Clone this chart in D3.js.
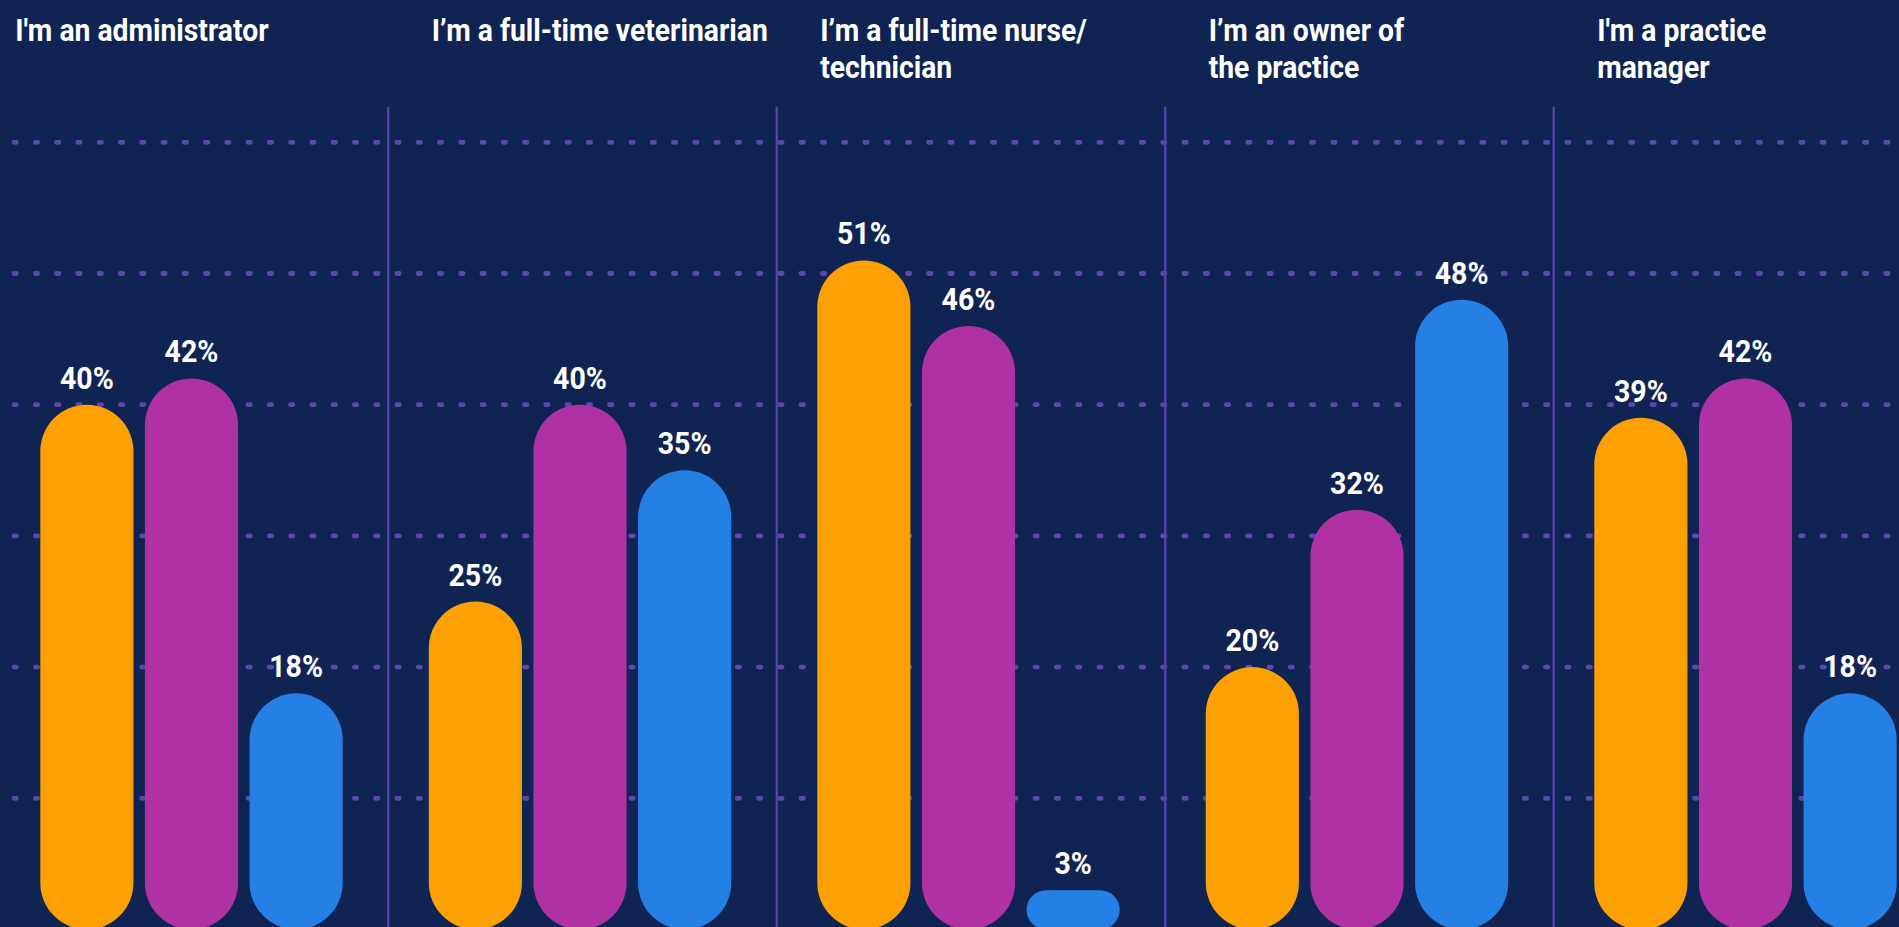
<!DOCTYPE html>
<html>
<head>
<meta charset="utf-8">
<script src="https://cdn.jsdelivr.net/npm/d3@7"></script>
<style>
  html, body { margin: 0; padding: 0; background: #0f2453; overflow: hidden; }
  svg { display: block; }
</style>
</head>
<body>
<svg id="chart" width="1899" height="927"></svg>
<script>
// ---- data ----
const categories = [
  ["I'm an administrator"],
  ["I’m a full-time veterinarian"],
  ["I’m a full-time nurse/", "technician"],
  ["I’m an owner of", "the practice"],
  ["I'm a practice", "manager"]
];
const seriesNames = ["Series A", "Series B", "Series C"];
const seriesA = [40, 25, 51, 20, 39];   // orange
const seriesB = [42, 40, 46, 32, 42];   // purple
const seriesC = [18, 35, 3, 48, 18];    // blue
const gridTicks = [10, 20, 30, 40, 50, 60];
const seriesColors = ["#fca004", "#b031a3", "#2580e6"];

// ---- layout ----
const W = 1899, H = 927;
const svg = d3.select("#chart");
svg.append("rect").attr("width", W).attr("height", H).attr("fill", "#0f2453");

const catKeys = categories.map((c, i) => i);
const step = 388.5;
const x0 = d3.scaleBand().domain(catKeys).range([-0.3, -0.3 + step * categories.length]).paddingInner(0).paddingOuter(0);
const x1 = d3.scaleBand().domain(seriesNames).range([40.6, 343]).paddingInner(0.11).paddingOuter(0);
const y = d3.scaleLinear().domain([0, 60]).range([929.5, 929.5 - 60 * 13.12]);

const values = [seriesA, seriesB, seriesC];

// gridlines (dotted)
svg.append("g").selectAll("line").data(gridTicks).join("line")
  .attr("x1", 14).attr("x2", W + 10)
  .attr("y1", d => y(d)).attr("y2", d => y(d))
  .attr("stroke", "#5b48aa").attr("stroke-width", 4.8)
  .attr("stroke-linecap", "round")
  .attr("stroke-dasharray", "2.4 18.87");

// dividers
svg.append("g").selectAll("line").data(catKeys.slice(1)).join("line")
  .attr("x1", d => x0(d)).attr("x2", d => x0(d))
  .attr("y1", 106.7).attr("y2", H)
  .attr("stroke", "#5746ad").attr("stroke-width", 2.2);

// bars
const barData = [];
catKeys.forEach(ci => {
  seriesNames.forEach((s, si) => {
    barData.push({ ci, s, si, v: values[si][ci] });
  });
});

const bars = svg.append("g");
bars.selectAll("rect").data(barData).join("rect")
  .attr("x", d => x0(d.ci) + x1(d.s))
  .attr("width", x1.bandwidth())
  .attr("y", d => y(d.v))
  .attr("height", d => y(0) - y(d.v))
  .attr("rx", d => Math.min(x1.bandwidth(), y(0) - y(d.v)) / 2)
  .attr("ry", d => Math.min(x1.bandwidth(), y(0) - y(d.v)) / 2)
  .attr("fill", d => seriesColors[d.si]);

// value labels
svg.append("g").selectAll("text").data(barData).join("text")
  .attr("transform", d => `translate(${x0(d.ci) + x1(d.s) + x1.bandwidth() / 2},${y(d.v) - 16}) scale(0.92,1)`)
  .attr("text-anchor", "middle")
  .attr("fill", "#ffffff")
  .attr("font-family", "Roboto, 'Noto Sans', sans-serif")
  .attr("font-weight", 700)
  .attr("font-size", 31)
  .text(d => d.v + "%");

// titles
const titles = svg.append("g");
categories.forEach((lines, ci) => {
  const tx = ci === 0 ? 15.3 : x0(ci) + 43.5;
  const t = titles.append("text")
    .attr("transform", `translate(${tx},40.7) scale(0.928,1)`)
    .attr("fill", "#ffffff")
    .attr("font-family", "Roboto, 'Noto Sans', sans-serif")
    .attr("font-weight", 700)
    .attr("font-size", 30.5);
  lines.forEach((ln, li) => {
    t.append("tspan").attr("x", 0).attr("y", li * 37.6).text(ln);
  });
});
</script>
</body>
</html>
